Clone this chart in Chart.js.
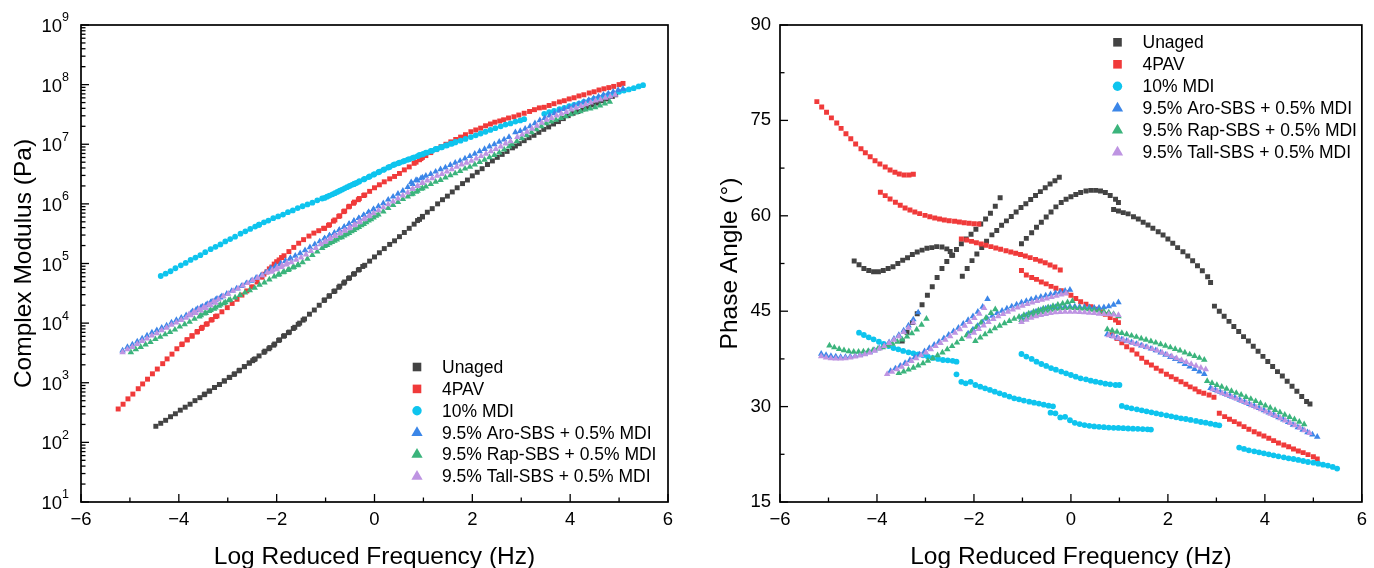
<!DOCTYPE html>
<html><head><meta charset="utf-8">
<script src="https://cdn.jsdelivr.net/npm/chart.js@4.4.1/dist/chart.umd.min.js"></script>
<style>
html,body{margin:0;padding:0;background:#fff;overflow:hidden;}
#wrap{position:relative;width:1374px;height:568px;background:#fff;}
canvas{position:absolute;top:0;}
#c1{left:0;width:690px;height:568px;}
#c2{left:690px;width:684px;height:568px;}
</style></head><body>
<div id="wrap"><canvas id="c1" width="690" height="568"></canvas><canvas id="c2" width="684" height="568"></canvas></div>
<script>
// ---------- data: log reduced frequency (Hz), phase angle (deg), log10 complex modulus (Pa) ----------
const seriesLabels = ['Unaged', '4PAV', '10% MDI', '9.5% Aro-SBS + 0.5% MDI', '9.5% Rap-SBS + 0.5% MDI', '9.5% Tall-SBS + 0.5% MDI'];

const unagedFreq = [
 -4.47,-4.37,-4.27,-4.17,-4.07,-3.97,-3.87,-3.77,-3.67,-3.57,-3.47,-3.37,-3.27,-3.17,-3.07,-2.97,-2.87,-2.77,-2.66,-2.56,-2.49,-2.44,
 -3.48,-3.38,-3.27,-3.17,-3.07,-2.96,-2.86,-2.76,-2.66,-2.56,-2.46,-2.36,-2.26,-2.16,-2.06,-1.96,-1.86,-1.76,-1.66,-1.56,-1.46,
 -2.24,-2.14,-2.04,-1.94,-1.84,-1.74,-1.63,-1.53,-1.43,-1.33,-1.23,-1.13,-1.03,-0.93,-0.83,-0.73,-0.63,-0.53,-0.43,-0.33,-0.24,
 -1.02,-0.92,-0.81,-0.71,-0.61,-0.51,-0.41,-0.31,-0.2,-0.1,0,0.1,0.2,0.31,0.41,0.51,0.61,0.71,0.81,0.92,0.98,
 0.88,0.98,1.08,1.18,1.29,1.39,1.49,1.59,1.69,1.8,1.9,2.0,2.1,2.2,2.31,2.41,2.51,2.61,2.71,2.82,2.88,
 2.96,3.06,3.16,3.26,3.36,3.46,3.56,3.66,3.76,3.86,3.96,4.06,4.16,4.26,4.36,4.46,4.56,4.66,4.76,4.86,4.93];
const unagedPhase = [
 52.9,52.3,51.7,51.4,51.2,51.2,51.4,51.7,52.0,52.5,53.0,53.4,53.9,54.3,54.6,54.9,55.0,55.15,55.1,54.8,54.4,53.8,
 40.3,41.7,43.2,44.6,46.0,47.5,48.85,50.3,51.7,52.8,53.8,54.7,55.6,56.35,57.1,57.9,58.7,59.5,60.4,61.5,62.85,
 50.5,51.7,52.95,54.0,55.0,56.0,57.0,57.7,58.5,59.2,59.9,60.6,61.3,61.9,62.55,63.2,63.8,64.4,65.0,65.5,66.05,
 55.6,56.45,57.35,58.2,59.0,59.8,60.6,61.4,62.1,62.6,63.0,63.35,63.65,63.9,64.0,64.0,63.9,63.65,63.2,62.6,62.1,
 61.0,60.75,60.5,60.3,59.86,59.5,59.0,58.55,58.03,57.5,56.98,56.35,55.67,55.0,54.36,53.68,52.94,52.16,51.37,50.43,49.5,
 45.8,45.0,44.2,43.4,42.6,41.8,41.0,40.3,39.5,38.7,37.9,37.1,36.3,35.5,34.8,34.0,33.2,32.4,31.6,30.8,30.4];
const unagedLogModulus = [
 2.27,2.32,2.37,2.43,2.48,2.54,2.59,2.64,2.7,2.75,2.81,2.86,2.92,2.97,3.03,3.09,3.14,3.2,3.27,3.33,3.37,3.4,
 2.8,2.86,2.92,2.97,3.03,3.09,3.15,3.21,3.27,3.33,3.39,3.45,3.51,3.57,3.63,3.71,3.78,3.84,3.91,3.98,4.05,
 3.53,3.59,3.65,3.72,3.79,3.85,3.93,4.0,4.07,4.15,4.22,4.3,4.38,4.45,4.53,4.6,4.67,4.75,4.82,4.89,4.95,
 4.39,4.46,4.54,4.62,4.69,4.76,4.83,4.9,4.97,5.04,5.11,5.18,5.25,5.32,5.38,5.45,5.52,5.59,5.66,5.74,5.78,
 5.72,5.79,5.86,5.92,6.0,6.07,6.13,6.2,6.27,6.34,6.4,6.47,6.53,6.59,6.66,6.72,6.78,6.83,6.88,6.94,6.97,
 7.01,7.06,7.11,7.15,7.2,7.25,7.29,7.34,7.38,7.43,7.48,7.52,7.55,7.59,7.62,7.66,7.69,7.73,7.76,7.8,7.83];

const pav4Freq = [
 -5.24,-5.14,-5.04,-4.94,-4.83,-4.74,-4.64,-4.54,-4.44,-4.33,-4.24,-4.14,-4.04,-3.94,-3.83,-3.73,-3.63,-3.54,-3.44,-3.34,-3.25,
 -3.93,-3.83,-3.73,-3.62,-3.52,-3.42,-3.32,-3.22,-3.12,-3.01,-2.91,-2.81,-2.71,-2.61,-2.51,-2.4,-2.3,-2.2,-2.1,-2.0,-1.9,
 -2.26,-2.15,-2.05,-1.95,-1.85,-1.75,-1.65,-1.55,-1.45,-1.34,-1.24,-1.14,-1.04,-0.94,-0.84,-0.73,-0.63,-0.53,-0.43,-0.33,-0.22,
 -1.02,-0.92,-0.81,-0.71,-0.61,-0.51,-0.41,-0.31,-0.2,-0.1,0,0.1,0.2,0.31,0.41,0.51,0.61,0.71,0.81,0.92,0.98,
 0.85,0.95,1.05,1.15,1.26,1.36,1.46,1.56,1.66,1.76,1.86,1.97,2.07,2.17,2.27,2.37,2.46,2.56,2.64,2.74,2.85,2.95,
 3.06,3.17,3.27,3.37,3.47,3.57,3.67,3.78,3.88,3.98,4.08,4.18,4.28,4.39,4.49,4.59,4.69,4.79,4.89,5.0,5.08];
const pav4Phase = [
 77.95,77.1,76.27,75.4,74.6,73.75,72.9,72.1,71.3,70.55,69.9,69.3,68.67,68.15,67.67,67.2,66.84,66.57,66.4,66.4,66.52,
 63.69,63.17,62.64,62.12,61.65,61.23,60.91,60.6,60.34,60.07,59.86,59.65,59.5,59.34,59.23,59.13,59.03,58.92,58.82,58.76,58.71,
 56.35,56.19,55.98,55.77,55.56,55.36,55.15,54.94,54.73,54.52,54.31,54.1,53.9,53.68,53.42,53.15,52.89,52.63,52.26,51.95,51.48,
 51.4,50.7,50.3,50.0,49.6,49.3,48.9,48.6,48.2,47.9,47.5,47.0,46.5,46.1,45.7,45.3,44.9,44.5,44.0,43.6,43.2,
 41.3,40.7,40.05,39.4,38.9,38.27,37.59,36.96,36.54,36.02,35.6,35.1,34.7,34.3,33.92,33.5,33.1,32.77,32.35,32.1,31.82,31.46,
 28.95,28.42,28.0,27.64,27.27,26.85,26.43,26.06,25.7,25.38,25.02,24.65,24.28,23.97,23.7,23.34,23.02,22.76,22.45,22.13,21.77];
const pav4LogModulus = [
 2.56,2.64,2.73,2.81,2.9,2.98,3.06,3.15,3.23,3.32,3.4,3.48,3.57,3.64,3.72,3.78,3.85,3.91,3.98,4.05,4.11,
 3.65,3.72,3.79,3.86,3.93,3.99,4.06,4.12,4.19,4.26,4.33,4.4,4.47,4.54,4.61,4.69,4.77,4.86,4.94,5.03,5.1,
 4.82,4.91,4.99,5.06,5.13,5.2,5.27,5.34,5.4,5.46,5.51,5.55,5.59,5.64,5.71,5.79,5.87,5.95,6.01,6.07,6.14,
 5.59,5.65,5.73,5.8,5.88,5.96,6.03,6.09,6.15,6.21,6.27,6.32,6.37,6.42,6.46,6.51,6.57,6.62,6.68,6.74,6.78,
 6.7,6.76,6.81,6.86,6.91,6.96,7.0,7.04,7.08,7.12,7.16,7.21,7.24,7.27,7.31,7.34,7.37,7.39,7.41,7.44,7.46,7.49,
 7.52,7.55,7.58,7.61,7.62,7.65,7.68,7.71,7.73,7.76,7.78,7.81,7.83,7.86,7.88,7.91,7.93,7.95,7.97,8.0,8.02];

const mdiFreq = [
 -4.37,-4.27,-4.17,-4.07,-3.96,-3.86,-3.76,-3.66,-3.56,-3.46,-3.35,-3.25,-3.15,-3.05,-2.95,-2.85,-2.74,-2.64,-2.54,-2.44,-2.36,
 -2.36,-2.26,-2.17,-2.07,-1.97,-1.87,-1.77,-1.67,-1.57,-1.47,-1.37,-1.27,-1.17,-1.07,-0.97,-0.86,-0.76,-0.66,-0.56,-0.46,-0.37,
 -0.42,-0.32,-0.22,-0.12,-0.02,0.08,0.18,0.28,0.38,0.48,0.58,0.68,0.78,0.88,0.98,1.08,1.18,1.28,1.38,1.48,1.58,1.65,
 -1.02,-0.92,-0.81,-0.71,-0.61,-0.51,-0.41,-0.31,-0.2,-0.1,0,0.1,0.2,0.31,0.41,0.51,0.61,0.71,0.81,0.92,1.0,
 1.05,1.15,1.25,1.36,1.46,1.56,1.66,1.76,1.86,1.97,2.07,2.17,2.27,2.37,2.47,2.58,2.68,2.78,2.88,2.98,3.06,
 3.47,3.57,3.67,3.78,3.88,3.98,4.08,4.18,4.28,4.39,4.49,4.59,4.69,4.79,4.89,5.0,5.1,5.2,5.3,5.4,5.49];
const mdiPhase = [
 41.63,41.26,40.9,40.58,40.2,39.85,39.53,39.2,39.0,38.75,38.54,38.38,38.2,38.07,37.86,37.65,37.5,37.33,37.28,37.2,37.07,
 35.08,33.9,33.66,33.9,33.4,33.14,32.88,32.62,32.35,32.09,31.83,31.57,31.3,31.15,30.94,30.78,30.62,30.47,30.31,30.15,30.04,
 29.05,28.95,28.3,28.4,27.85,27.45,27.25,27.1,26.98,26.88,26.82,26.76,26.7,26.66,26.64,26.6,26.56,26.53,26.5,26.46,26.42,26.38,
 38.27,37.86,37.49,37.07,36.7,36.39,36.05,35.8,35.5,35.23,34.97,34.71,34.45,34.29,34.08,33.92,33.77,33.61,33.5,33.4,33.4,
 30.1,29.89,29.73,29.57,29.42,29.26,29.1,28.95,28.79,28.63,28.47,28.32,28.16,28.05,27.9,27.74,27.58,27.48,27.32,27.16,27.06,
 23.55,23.34,23.13,22.97,22.81,22.66,22.5,22.34,22.18,22.03,21.87,21.76,21.61,21.45,21.29,21.19,21.03,20.87,20.72,20.51,20.25];
const mdiLogModulus = [
 4.79,4.83,4.87,4.92,4.97,5.01,5.06,5.1,5.14,5.19,5.24,5.28,5.32,5.37,5.41,5.45,5.5,5.54,5.58,5.62,5.65,
 5.65,5.69,5.72,5.76,5.79,5.82,5.86,5.89,5.93,5.96,5.99,6.02,6.06,6.09,6.12,6.16,6.2,6.24,6.28,6.32,6.35,
 6.33,6.37,6.41,6.45,6.49,6.53,6.57,6.61,6.65,6.68,6.71,6.74,6.77,6.8,6.83,6.86,6.89,6.92,6.95,6.98,7.01,7.03,
 6.1,6.14,6.18,6.22,6.26,6.3,6.34,6.38,6.42,6.46,6.5,6.54,6.58,6.62,6.66,6.69,6.72,6.75,6.78,6.82,6.84,
 6.86,6.89,6.92,6.95,6.98,7.01,7.04,7.06,7.09,7.12,7.15,7.18,7.21,7.24,7.27,7.3,7.33,7.35,7.38,7.4,7.42,
 7.51,7.54,7.56,7.59,7.61,7.64,7.66,7.68,7.71,7.73,7.76,7.78,7.81,7.83,7.85,7.88,7.9,7.92,7.94,7.97,7.99];

const aroFreq = [
 -5.15,-5.05,-4.95,-4.85,-4.75,-4.65,-4.55,-4.45,-4.35,-4.25,-4.15,-4.05,-3.95,-3.85,-3.75,-3.65,-3.55,-3.45,-3.35,-3.25,-3.15,
 -3.72,-3.62,-3.52,-3.42,-3.32,-3.22,-3.12,-3.02,-2.92,-2.82,-2.72,-2.62,-2.52,-2.42,-2.32,-2.22,-2.12,-2.02,-1.92,-1.82,-1.72,
 -2.12,-2.02,-1.92,-1.82,-1.72,-1.62,-1.52,-1.42,-1.32,-1.22,-1.12,-1.02,-0.92,-0.82,-0.72,-0.62,-0.52,-0.42,-0.32,-0.22,-0.12,-0.02,
 -1.02,-0.92,-0.82,-0.72,-0.62,-0.52,-0.42,-0.32,-0.22,-0.12,-0.02,0.08,0.18,0.28,0.38,0.48,0.58,0.68,0.78,0.88,0.98,
 0.75,0.85,0.95,1.05,1.15,1.25,1.35,1.45,1.55,1.65,1.75,1.85,1.95,2.05,2.15,2.25,2.35,2.45,2.55,2.65,2.75,
 2.88,2.98,3.08,3.18,3.28,3.38,3.48,3.58,3.68,3.78,3.88,3.98,4.08,4.18,4.28,4.38,4.48,4.58,4.68,4.78,4.88,4.98,5.08];
const aroPhase = [
 38.3,38.1,37.95,37.85,37.8,37.8,37.85,37.95,38.1,38.3,38.55,38.85,39.2,39.6,40.1,40.65,41.25,41.95,42.75,43.7,44.8,
 35.6,36.0,36.4,36.85,37.3,37.75,38.2,38.7,39.2,39.7,40.2,40.75,41.3,41.85,42.4,43.0,43.6,44.2,44.9,45.7,46.9,
 41.5,42.1,42.7,43.25,43.8,44.25,44.7,45.05,45.4,45.75,46.05,46.35,46.6,46.85,47.05,47.25,47.45,47.65,47.85,48.05,48.2,48.35,
 44.0,44.35,44.65,44.95,45.2,45.4,45.55,45.65,45.7,45.75,45.75,45.75,45.7,45.65,45.6,45.55,45.55,45.6,45.75,46.0,46.4,
 41.35,41.1,40.85,40.6,40.35,40.1,39.85,39.6,39.35,39.1,38.85,38.5,38.15,37.8,37.45,37.1,36.7,36.3,35.9,35.5,35.1,
 32.9,32.6,32.3,32.0,31.7,31.4,31.05,30.75,30.4,30.1,29.75,29.4,29.05,28.7,28.3,27.95,27.55,27.15,26.75,26.35,25.95,25.6,25.25];
const aroLogModulus = [
 3.54,3.6,3.64,3.69,3.74,3.79,3.84,3.88,3.92,3.96,4.01,4.05,4.09,4.13,4.17,4.22,4.26,4.3,4.35,4.39,4.43,
 4.2,4.24,4.28,4.32,4.36,4.41,4.45,4.49,4.54,4.58,4.62,4.67,4.71,4.76,4.8,4.85,4.9,4.95,4.99,5.04,5.08,
 4.92,4.96,5.0,5.04,5.09,5.13,5.17,5.22,5.27,5.32,5.37,5.42,5.47,5.51,5.56,5.61,5.66,5.71,5.76,5.81,5.86,5.91,
 5.42,5.47,5.51,5.56,5.61,5.66,5.71,5.76,5.81,5.86,5.91,5.96,6.01,6.07,6.12,6.17,6.22,6.28,6.33,6.39,6.44,
 6.36,6.4,6.43,6.47,6.5,6.54,6.58,6.61,6.65,6.69,6.72,6.76,6.8,6.84,6.88,6.92,6.96,7.0,7.04,7.08,7.12,
 7.2,7.22,7.26,7.3,7.35,7.4,7.44,7.48,7.52,7.56,7.59,7.62,7.65,7.68,7.71,7.74,7.77,7.8,7.83,7.85,7.88,7.91,7.93];

const rapFreq = [
 -4.98,-4.88,-4.78,-4.68,-4.58,-4.48,-4.38,-4.28,-4.18,-4.08,-3.98,-3.88,-3.78,-3.68,-3.58,-3.48,-3.38,-3.28,-3.18,-3.08,-2.98,
 -3.55,-3.45,-3.35,-3.25,-3.15,-3.05,-2.95,-2.85,-2.75,-2.65,-2.55,-2.45,-2.35,-2.25,-2.15,-2.05,-1.95,-1.85,-1.75,-1.65,-1.56,
 -1.97,-1.87,-1.77,-1.67,-1.57,-1.47,-1.37,-1.27,-1.17,-1.07,-0.97,-0.87,-0.77,-0.67,-0.57,-0.47,-0.37,-0.27,-0.17,-0.07,0.03,
 -1.02,-0.92,-0.82,-0.72,-0.62,-0.52,-0.42,-0.32,-0.22,-0.12,-0.02,0.08,0.18,0.28,0.38,0.48,0.58,0.68,0.78,0.88,0.98,
 0.75,0.85,0.95,1.05,1.15,1.25,1.35,1.45,1.55,1.65,1.75,1.85,1.95,2.05,2.15,2.25,2.35,2.45,2.55,2.65,2.75,
 2.81,2.91,3.01,3.11,3.21,3.31,3.41,3.51,3.61,3.71,3.81,3.91,4.01,4.11,4.21,4.31,4.41,4.51,4.61,4.71,4.81];
const rapPhase = [
 39.6,39.3,39.05,38.85,38.7,38.6,38.6,38.65,38.75,38.9,39.1,39.3,39.55,39.85,40.2,40.55,41.0,41.5,42.1,42.85,43.8,
 35.25,35.5,35.8,36.1,36.45,36.8,37.2,37.6,38.05,38.5,39.0,39.5,40.05,40.6,41.2,41.85,42.5,43.2,43.95,44.7,45.3,
 40.3,40.85,41.35,41.85,42.3,42.7,43.1,43.45,43.8,44.1,44.4,44.65,44.9,45.15,45.4,45.6,45.8,46.0,46.2,46.4,46.6,
 43.6,43.95,44.3,44.6,44.85,45.05,45.2,45.35,45.45,45.5,45.55,45.5,45.45,45.4,45.3,45.2,45.1,44.95,44.8,44.55,44.2,
 42.15,41.95,41.75,41.55,41.35,41.15,40.95,40.7,40.5,40.25,40.05,39.8,39.55,39.3,39.05,38.8,38.5,38.2,37.95,37.65,37.35,
 34.0,33.7,33.4,33.1,32.8,32.45,32.15,31.85,31.5,31.2,30.85,30.5,30.15,29.8,29.45,29.1,28.7,28.35,28.0,27.6,27.2];
const rapLogModulus = [
 3.51,3.56,3.6,3.64,3.68,3.73,3.77,3.81,3.85,3.89,3.94,3.98,4.02,4.07,4.11,4.16,4.2,4.24,4.29,4.33,4.38,
 4.13,4.17,4.22,4.26,4.31,4.35,4.39,4.43,4.47,4.51,4.55,4.59,4.64,4.68,4.73,4.78,4.82,4.86,4.9,4.94,4.98,
 4.81,4.85,4.89,4.93,4.97,5.02,5.08,5.14,5.2,5.26,5.31,5.36,5.4,5.44,5.49,5.54,5.59,5.64,5.69,5.74,5.8,
 5.29,5.34,5.38,5.43,5.47,5.51,5.56,5.61,5.66,5.72,5.77,5.82,5.87,5.93,5.98,6.03,6.08,6.12,6.17,6.22,6.26,
 6.16,6.2,6.25,6.29,6.33,6.37,6.4,6.44,6.48,6.51,6.55,6.59,6.62,6.66,6.7,6.74,6.78,6.82,6.86,6.91,6.96,
 7.0,7.05,7.1,7.15,7.2,7.25,7.3,7.35,7.38,7.41,7.44,7.47,7.5,7.53,7.55,7.58,7.6,7.62,7.65,7.68,7.71];

const tallFreq = [
 -5.15,-5.05,-4.95,-4.85,-4.75,-4.65,-4.55,-4.45,-4.35,-4.25,-4.15,-4.05,-3.95,-3.85,-3.75,-3.65,-3.55,-3.45,-3.35,-3.25,
 -3.79,-3.69,-3.59,-3.49,-3.39,-3.29,-3.19,-3.09,-2.99,-2.89,-2.79,-2.69,-2.59,-2.49,-2.39,-2.29,-2.19,-2.09,-1.99,-1.89,-1.79,
 -2.1,-2.0,-1.9,-1.8,-1.7,-1.6,-1.5,-1.4,-1.3,-1.2,-1.1,-1.0,-0.9,-0.8,-0.7,-0.6,-0.5,-0.4,-0.3,-0.2,-0.1,
 -1.02,-0.92,-0.82,-0.72,-0.62,-0.52,-0.42,-0.32,-0.22,-0.12,-0.02,0.08,0.18,0.28,0.38,0.48,0.58,0.68,0.78,0.88,0.98,
 0.78,0.88,0.98,1.08,1.18,1.28,1.38,1.48,1.58,1.68,1.78,1.88,1.98,2.08,2.18,2.28,2.38,2.48,2.58,2.68,2.78,
 2.92,3.02,3.12,3.22,3.32,3.42,3.52,3.62,3.72,3.82,3.92,4.02,4.12,4.22,4.32,4.42,4.52,4.62,4.72,4.82,4.92];
const tallPhase = [
 37.9,37.7,37.6,37.55,37.55,37.6,37.7,37.85,38.0,38.2,38.45,38.75,39.1,39.5,40.0,40.5,41.05,41.7,42.4,43.2,
 35.1,35.45,35.85,36.25,36.7,37.15,37.6,38.05,38.5,39.0,39.5,40.0,40.5,41.05,41.6,42.15,42.7,43.3,43.9,44.6,45.5,
 41.0,41.6,42.2,42.75,43.3,43.75,44.2,44.55,44.9,45.25,45.55,45.85,46.1,46.35,46.6,46.8,47.0,47.2,47.4,47.6,47.8,
 43.3,43.65,43.95,44.2,44.4,44.55,44.7,44.8,44.85,44.9,44.9,44.9,44.85,44.8,44.75,44.7,44.6,44.55,44.5,44.45,44.4,
 41.2,41.0,40.75,40.5,40.25,40.0,39.8,39.55,39.3,39.05,38.8,38.5,38.2,37.9,37.6,37.3,37.0,36.7,36.4,36.1,35.85,
 32.7,32.4,32.1,31.8,31.5,31.2,30.85,30.55,30.2,29.9,29.55,29.2,28.85,28.5,28.15,27.8,27.4,27.05,26.65,26.25,25.85];
const tallLogModulus = [
 3.51,3.56,3.6,3.65,3.7,3.74,3.79,3.83,3.88,3.92,3.97,4.01,4.05,4.09,4.13,4.17,4.21,4.25,4.3,4.34,
 4.15,4.19,4.23,4.27,4.31,4.36,4.4,4.45,4.49,4.54,4.58,4.63,4.67,4.72,4.76,4.8,4.85,4.89,4.93,4.97,5.01,
 4.86,4.9,4.94,4.98,5.02,5.06,5.1,5.15,5.21,5.26,5.32,5.37,5.42,5.46,5.51,5.55,5.6,5.65,5.7,5.75,5.8,
 5.36,5.41,5.46,5.5,5.55,5.59,5.64,5.69,5.74,5.79,5.84,5.89,5.94,5.99,6.04,6.09,6.14,6.19,6.25,6.3,6.35,
 6.25,6.3,6.35,6.39,6.43,6.47,6.5,6.54,6.58,6.62,6.66,6.69,6.72,6.76,6.8,6.84,6.88,6.92,6.96,7.01,7.05,
 7.12,7.16,7.21,7.26,7.31,7.36,7.41,7.44,7.48,7.51,7.54,7.58,7.61,7.64,7.67,7.7,7.73,7.75,7.78,7.8,7.83];

// tick values
const xMajorTicks = [-6, -4, -2, 0, 2, 4, 6];
const xMinorTicks = [-5, -3, -1, 1, 3, 5];
const modulusPowers = [1, 2, 3, 4, 5, 6, 7, 8, 9];
const phaseMajorTicks = [15, 30, 45, 60, 75, 90];
const phaseMinorTicks = [22.5, 37.5, 52.5, 67.5, 82.5];

// ---------- styles ----------
const FONT = '"Liberation Sans", Arial, "DejaVu Sans", sans-serif';
const styles = [
  {color: '#434343', shape: 'rect', r: 3.5},
  {color: '#f03a3a', shape: 'rect', r: 3.5},
  {color: '#0ec4ee', shape: 'circle', r: 2.9},
  {color: '#3b86e8', shape: 'triangle', r: 3.8},
  {color: '#3bb47c', shape: 'triangle', r: 3.8},
  {color: '#be94e2', shape: 'triangle', r: 3.8}
];
const allFreq = [unagedFreq, pav4Freq, mdiFreq, aroFreq, rapFreq, tallFreq];
const allPhase = [unagedPhase, pav4Phase, mdiPhase, aroPhase, rapPhase, tallPhase];
const allLogMod = [unagedLogModulus, pav4LogModulus, mdiLogModulus, aroLogModulus, rapLogModulus, tallLogModulus];

function makeDatasets(valueArrays, transform) {
  return seriesLabels.map((label, i) => ({
    label,
    data: allFreq[i].map((f, k) => ({x: f, y: transform(valueArrays[i][k])})),
    pointStyle: styles[i].shape,
    pointRadius: styles[i].r,
    pointHoverRadius: styles[i].r,
    pointBorderWidth: 0,
    backgroundColor: styles[i].color,
    borderColor: styles[i].color,
    showLine: false,
    order: 5 - i
  }));
}

function drawMarker(ctx, shape, x, y, size, color) {
  ctx.fillStyle = color;
  ctx.beginPath();
  if (shape === 'rect') ctx.rect(x - size, y - size, 2 * size, 2 * size);
  else if (shape === 'circle') ctx.arc(x, y, size, 0, Math.PI * 2);
  else { ctx.moveTo(x, y - size); ctx.lineTo(x + size * 0.866, y + size * 0.5); ctx.lineTo(x - size * 0.866, y + size * 0.5); ctx.closePath(); }
  ctx.fill();
}
const legendSizes = {rect: 4.3, circle: 4.7, triangle: 6.5};

const decor = {
  id: 'decor',
  afterDraw(chart, args, o) {
    const {ctx, chartArea: a} = chart;
    const xs = chart.scales.x, ys = chart.scales.y;
    ctx.save();
    ctx.strokeStyle = '#000';
    ctx.lineWidth = 1.3;
    const tick = (x1, y1, x2, y2) => { ctx.beginPath(); ctx.moveTo(x1, y1); ctx.lineTo(x2, y2); ctx.stroke(); };
    o.xMajor.forEach(v => { const p = xs.getPixelForValue(v); tick(p, a.bottom, p, a.bottom - 8); });
    o.xMinor.forEach(v => { const p = xs.getPixelForValue(v); tick(p, a.bottom, p, a.bottom - 4.5); });
    o.yMajor.forEach(v => { const p = ys.getPixelForValue(v); tick(a.left, p, a.left + 8, p); });
    o.yMinor.forEach(v => { const p = ys.getPixelForValue(v); tick(a.left, p, a.left + 4.5, p); });
    ctx.lineWidth = 1.7;
    ctx.strokeRect(a.left, a.top, a.right - a.left, a.bottom - a.top);
    if (o.powers) {
      ctx.fillStyle = '#000';
      ctx.textBaseline = 'middle';
      o.powers.forEach(pw => {
        const p = ys.getPixelForValue(Math.pow(10, pw));
        ctx.font = '12.5px ' + FONT;
        ctx.textAlign = 'left';
        const supW = ctx.measureText(String(pw)).width;
        const supX = a.left - 12 - supW;
        ctx.fillText(String(pw), supX, p - 7);
        ctx.font = '18.5px ' + FONT;
        ctx.textAlign = 'right';
        ctx.fillText('10', supX, p + 2);
      });
    }
    const L = o.legend;
    ctx.font = '17.5px ' + FONT;
    ctx.textAlign = 'left';
    ctx.textBaseline = 'middle';
    chart.data.datasets.forEach((d, i) => {
      const y = L.y + i * L.dy;
      drawMarker(ctx, d.pointStyle, L.mx, y, legendSizes[d.pointStyle], d.backgroundColor);
      ctx.fillStyle = '#000';
      ctx.fillText(d.label, L.tx, y + 1);
    });
    ctx.restore();
  }
};

const minusFmt = v => String(v).replace('-', '\u2212');

function xAxis() {
  return {
    type: 'linear', min: -6, max: 6,
    grid: {display: false, drawTicks: false}, border: {display: false},
    afterBuildTicks: s => { s.ticks = xMajorTicks.map(v => ({value: v})); },
    afterFit: s => { s.height = 66; },
    ticks: {padding: 7, color: '#000', font: {family: FONT, size: 18.5}, callback: minusFmt, maxRotation: 0, autoSkip: false},
    title: {display: true, text: 'Log Reduced Frequency (Hz)', color: '#000', font: {family: FONT, size: 24.5, lineHeight: 0.85}, padding: {top: 0, bottom: 0}}
  };
}

new Chart(document.getElementById('c1'), {
  type: 'scatter',
  data: {datasets: makeDatasets(allLogMod, v => Math.pow(10, v))},
  options: {
    responsive: false, animation: false, devicePixelRatio: 1,
    layout: {padding: {top: 25, right: 22, bottom: 0, left: 0}},
    plugins: {legend: {display: false}, tooltip: {enabled: false},
      decor: {xMajor: xMajorTicks, xMinor: xMinorTicks,
        yMajor: modulusPowers.map(p => Math.pow(10, p)),
        yMinor: modulusPowers.slice(0, -1).flatMap(p => [2,3,4,5,6,7,8,9].map(m => m * Math.pow(10, p))),
        powers: modulusPowers,
        legend: {mx: 417, tx: 442, y: 367, dy: 21.9}}},
    scales: {
      x: xAxis(),
      y: {
        type: 'logarithmic', min: 10, max: 1e9,
        grid: {display: false, drawTicks: false}, border: {display: false},
        ticks: {display: false},
        afterFit: s => { s.width = 81; },
        title: {display: true, text: 'Complex Modulus (Pa)', color: '#000', font: {family: FONT, size: 24.5, lineHeight: 0.85}, padding: {top: 14, bottom: 0}}
      }
    }
  },
  plugins: [decor]
});

new Chart(document.getElementById('c2'), {
  type: 'scatter',
  data: {datasets: makeDatasets(allPhase, v => v)},
  options: {
    responsive: false, animation: false, devicePixelRatio: 1,
    layout: {padding: {top: 25, right: 4, bottom: 0, left: 0}},
    plugins: {legend: {display: false}, tooltip: {enabled: false},
      decor: {xMajor: xMajorTicks, xMinor: xMinorTicks, yMajor: phaseMajorTicks, yMinor: phaseMinorTicks,
        legend: {mx: 427.5, tx: 452.5, y: 42.3, dy: 22}}},
    scales: {
      x: xAxis(),
      y: {
        type: 'linear', min: 15, max: 90,
        grid: {display: false, drawTicks: false}, border: {display: false},
        afterBuildTicks: s => { s.ticks = phaseMajorTicks.map(v => ({value: v})); },
        ticks: {padding: 9, color: '#000', font: {family: FONT, size: 18.5}},
        afterFit: s => { s.width = 90; },
        title: {display: true, text: 'Phase Angle (\u00B0)', color: '#000', font: {family: FONT, size: 24.5, lineHeight: 0.85}, padding: {top: 30, bottom: 0}}
      }
    }
  },
  plugins: [decor]
});
</script>
</body></html>
